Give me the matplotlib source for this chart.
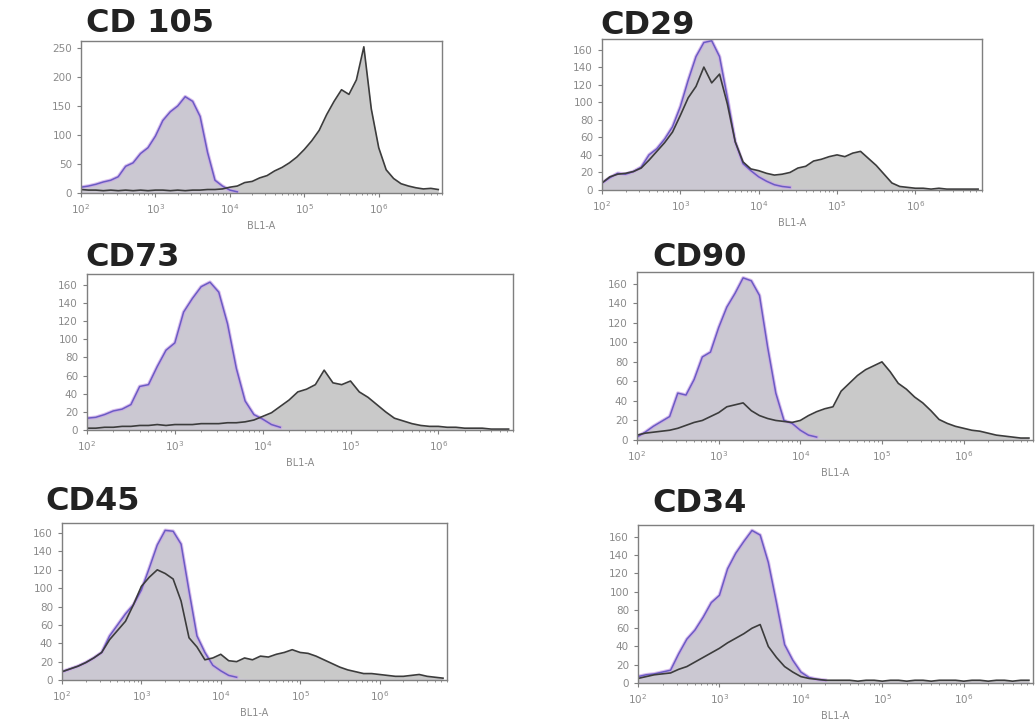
import numpy as np
from matplotlib import pyplot as plt

# log10 of BL1-A fluorescence, bin centres
log_bins = np.round(np.arange(2.0, 6.81, 0.1), 1)

titles = ["CD 105", "CD29", "CD73", "CD90", "CD45", "CD34"]

# isotype control (purple outline), counts per bin
iso_cd105 = [10, 12, 15, 19, 22, 28, 46, 52, 68, 78, 98, 125, 140, 150, 166, 158, 132, 70, 22, 12,
             5, 2, 1, 1, 0, 0, 0, 0, 0, 0, 0, 0, 0, 0, 0, 0, 0, 0, 0, 0, 0, 0, 0, 0, 0, 0, 0, 0, 0]
iso_cd29 = [8, 14, 19, 18, 21, 26, 40, 47, 58, 72, 95, 125, 152, 168, 170, 152, 105, 55, 30, 22,
            15, 10, 6, 4, 3, 2, 2, 1, 1, 1, 1, 1, 1, 1, 1, 1, 1, 1, 1, 1, 1, 1, 1, 1, 1, 1, 1, 1, 1]
iso_cd73 = [13, 14, 17, 21, 23, 28, 48, 50, 70, 88, 96, 130, 145, 158, 163, 152, 117, 68, 32, 17,
            12, 6, 3, 2, 1, 1, 1, 1, 1, 1, 1, 1, 1, 1, 1, 1, 1, 1, 1, 1, 1, 1, 1, 1, 1, 1, 1, 1, 1]
iso_cd90 = [3, 8, 14, 19, 24, 48, 46, 62, 85, 90, 115, 136, 150, 166, 163, 148, 95, 48, 20, 17,
            10, 5, 3, 2, 1, 1, 1, 1, 1, 1, 1, 1, 1, 1, 1, 1, 1, 1, 1, 1, 1, 1, 1, 1, 1, 1, 1, 1, 1]
iso_cd45 = [9, 12, 15, 19, 24, 30, 48, 60, 72, 82, 98, 122, 147, 163, 162, 148, 97, 48, 30, 16,
            10, 5, 3, 2, 1, 1, 1, 1, 1, 1, 1, 1, 1, 1, 1, 1, 1, 1, 1, 1, 1, 1, 1, 1, 1, 1, 1, 1, 1]
iso_cd34 = [7, 9, 10, 12, 14, 32, 48, 58, 72, 88, 96, 125, 142, 155, 167, 162, 132, 88, 42, 25,
            12, 6, 4, 3, 2, 2, 2, 2, 2, 2, 2, 2, 2, 2, 2, 2, 2, 2, 2, 2, 2, 2, 2, 2, 2, 2, 2, 2, 2]

# stained sample (dark outline), counts per bin
smp_cd105 = [6, 5, 5, 4, 5, 4, 5, 4, 5, 4, 5, 5, 4, 5, 4, 5, 5, 6, 6, 7,
             10, 12, 18, 20, 26, 30, 38, 44, 52, 62, 75, 90, 108, 135, 158, 178, 170, 195, 252, 145,
             78, 40, 25, 16, 12, 9, 7, 8, 6]
smp_cd29 = [8, 15, 18, 19, 21, 25, 34, 44, 54, 66, 85, 105, 118, 140, 122, 132, 98, 55, 32, 24,
            22, 19, 17, 18, 20, 25, 27, 33, 35, 38, 40, 38, 42, 44, 36, 28, 18, 8, 4, 3,
            2, 2, 1, 2, 1, 1, 1, 1, 1]
smp_cd73 = [2, 2, 3, 3, 4, 4, 5, 5, 6, 5, 6, 6, 6, 7, 7, 7, 8, 8, 9, 11,
            15, 19, 26, 33, 42, 45, 50, 66, 52, 50, 54, 42, 36, 28, 20, 13, 10, 7, 5, 4,
            4, 3, 3, 2, 2, 2, 1, 1, 1]
smp_cd90 = [5, 7, 8, 9, 10, 12, 15, 18, 20, 24, 28, 34, 36, 38, 30, 25, 22, 20, 19, 18,
            20, 25, 29, 32, 34, 50, 58, 66, 72, 76, 80, 70, 58, 52, 44, 38, 30, 21, 17, 14,
            12, 10, 9, 7, 5, 4, 3, 2, 2]
smp_cd45 = [9, 12, 15, 19, 24, 30, 44, 54, 64, 82, 102, 112, 120, 116, 110, 86, 46, 36, 22, 24,
            28, 21, 20, 24, 22, 26, 25, 28, 30, 33, 30, 29, 26, 22, 18, 14, 11, 9, 7, 7,
            6, 5, 4, 4, 5, 6, 4, 3, 2]
smp_cd34 = [5, 7, 9, 10, 11, 15, 18, 23, 28, 33, 38, 44, 49, 54, 60, 64, 40, 28, 18, 12,
            7, 5, 4, 3, 3, 3, 3, 2, 3, 3, 2, 3, 3, 2, 3, 3, 2, 3, 3, 3,
            2, 3, 3, 2, 3, 3, 2, 3, 3]

iso_all = [iso_cd105, iso_cd29, iso_cd73, iso_cd90, iso_cd45, iso_cd34]
smp_all = [smp_cd105, smp_cd29, smp_cd73, smp_cd90, smp_cd45, smp_cd34]
y_max = [262, 172, 172, 172, 171, 173]
y_step = [50, 20, 20, 20, 20, 20]

# axes boxes in pixels: left, top, right, bottom
W, H = 1035, 727
boxes = [(81, 41, 442, 193), (602, 39, 982, 190), (87, 274, 513, 430),
         (637, 272, 1033, 440), (62, 523, 447, 680), (638, 525, 1033, 683)]
title_pos = [(86, 23), (600, 25), (85, 258), (652, 257), (45, 502), (652, 503)]

fig = plt.figure(figsize=(W / 100, H / 100), dpi=100)
grey = "#7f7f7f"

for i in range(6):
    l, t, r, b = boxes[i]
    ax = fig.add_axes([l / W, 1 - b / H, (r - l) / W, (b - t) / H])
    iso = np.array(iso_all[i])
    smp = np.array(smp_all[i])
    ax.fill_between(log_bins, smp, color="#c9c9c9", lw=0)
    ax.fill_between(log_bins, iso, color="#cbc8d2", lw=0)

    # purple outline only where the isotype curve is still above the baseline
    peak = int(np.argmax(iso))
    stop = peak + int(np.argmax(iso[peak:] <= 3)) + 1
    ax.plot(log_bins[:stop], iso[:stop], color="#c9a3e6", lw=2.6, alpha=0.7)
    ax.plot(log_bins[:stop], iso[:stop], color="#6b5bc4", lw=1.1)
    ax.plot(log_bins, smp, color="#3c3c3c", lw=1.2)

    ax.set_xlim(2.0, 6.85)
    ax.set_ylim(0, y_max[i])
    ax.set_xticks([2, 3, 4, 5, 6])
    ax.set_xticklabels([r"$10^{%d}$" % k for k in range(2, 7)])
    minors = [np.log10(m) + d for d in range(2, 7) for m in range(2, 10) if np.log10(m) + d < 6.85]
    ax.set_xticks(minors, minor=True)
    ax.set_yticks(np.arange(0, y_max[i], y_step[i]))
    ax.tick_params(colors=grey, labelcolor="#8a8a8a", labelsize=7.5, length=3, width=0.8)
    ax.tick_params(which="minor", length=1.5, color=grey)
    for s in ax.spines.values():
        s.set_color(grey)
        s.set_linewidth(1.0)
    ax.set_xlabel("BL1-A", fontsize=7, color="#8a8a8a", labelpad=4)

    tx, ty = title_pos[i]
    fig.text(tx / W, 1 - ty / H, titles[i], fontsize=23, fontweight="bold", color="#222222",
             ha="left", va="center", family="DejaVu Sans")

fig.savefig("out.png", dpi=100)
